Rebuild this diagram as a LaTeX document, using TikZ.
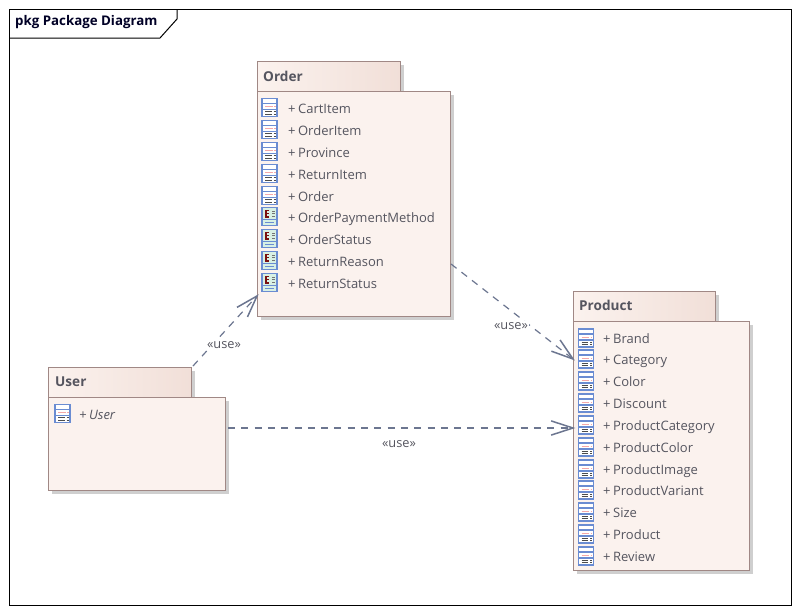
\documentclass[tikz,border=0pt]{standalone}
\usepackage{fontspec}
\setmainfont{Open Sans}
\usetikzlibrary{arrows.meta,calc}
\definecolor{pkgfill}{HTML}{FBF2EE}
\definecolor{pkgend}{HTML}{F1DFD8}
\definecolor{pkgline}{HTML}{A08885}
\definecolor{pkgshadow}{HTML}{CFCFCF}
\definecolor{txt}{HTML}{55555F}
\definecolor{conn}{HTML}{6C7690}
\definecolor{iconblue}{HTML}{6A8CD2}
\definecolor{iconred}{HTML}{F4A8A8}
\definecolor{icongreen}{HTML}{D8F0E4}
\definecolor{iconmaroon}{HTML}{7A1010}
\tikzset{
  x=1pt,y=-1pt,
  frameline/.style={draw=black,line width=1pt},
  bodybox/.style={draw=pkgline,fill=pkgfill,line width=1.2pt},
  tabbox/.style={draw=pkgline,left color=pkgfill,right color=pkgend,line width=1.2pt},
  pkgtitle/.style={anchor=west,inner sep=0pt,font=\fontsize{13.6}{15}\selectfont\bfseries,text=txt},
  item/.style={anchor=west,inner sep=0pt,text height=10pt,text depth=3pt,font=\fontsize{13}{15}\selectfont,text=txt},
  uselabel/.style={inner sep=1pt,fill=white,font=\fontsize{12.8}{14}\selectfont,text=txt},
  dep/.style={draw=conn,line width=1.2pt,dash pattern=on 7pt off 6.3pt},
  openhead/.style={draw=conn,line width=1.5pt},
  pics/classicon/.style={code={
    \draw[iconblue,fill=white,line width=1.3pt] (-7.5,-9) rectangle (7.5,9);
    \draw[iconblue,line width=1.1pt] (-7.5,-4) -- (7.5,-4) (-7.5,2) -- (7.5,2);
    \draw[iconred,line width=1pt] (-4.5,-1) -- (3,-1) (4.5,-1) -- (6,-1);
    \draw[black!70,line width=1pt] (-4.5,4.2) -- (2,4.2) (-4.5,6.8) -- (2,6.8) (4,4.2) -- (6,4.2) (4,6.8) -- (6,6.8);
  }},
  pics/enumicon/.style={code={
    \draw[iconblue,fill=icongreen,line width=1.3pt] (-7.5,-9) rectangle (7.5,9);
    \draw[iconblue,line width=1.1pt] (-7.5,3) -- (7.5,3);
    \draw[iconblue,line width=1pt] (-4.5,6) -- (4.5,6);
    \draw[iconmaroon,line width=1.3pt] (-0.5,-6) -- (-3.5,-6) -- (-3.5,0.5) -- (-0.5,0.5) (-3.5,-2.7) -- (-1,-2.7);
    \draw[black!55,line width=1pt] (2.5,-5.5) -- (5,-5.5) (2.5,-2.7) -- (5,-2.7) (2.5,0) -- (5,0);
  }}
}
\newcommand{\plus}[1]{+\hspace{0.19em}#1}
\begin{document}
\begin{tikzpicture}
\useasboundingbox (0,0) rectangle (800,613);
\fill[white] (0,0) rectangle (800,613);
% frame
\node[frameline,minimum width=782pt,minimum height=596pt,inner sep=0pt,anchor=north west] (frame) at (9,9) {};
\draw[frameline] (9,38) -- (160,38) -- (177,19) -- (177,9);
\node[anchor=west,inner sep=0pt,font=\fontsize{13.3}{15}\selectfont\bfseries,text=black!85!blue] (frametitle) at (15,22.5) {pkg Package Diagram};
% shadows
\fill[pkgshadow] (261,65) rectangle (404,95);
\fill[pkgshadow] (261,95) rectangle (454,320);
\fill[pkgshadow] (577,295) rectangle (719,325);
\fill[pkgshadow] (577,325) rectangle (753,574);
\fill[pkgshadow] (52,371) rectangle (195,401);
\fill[pkgshadow] (52,401) rectangle (229,494);
% Order
\node[tabbox,minimum width=143pt,minimum height=30pt,inner sep=0pt,anchor=north west] (ordertab) at (257,61) {};
\node[bodybox,minimum width=193pt,minimum height=225pt,inner sep=0pt,anchor=north west] (orderbody) at (257,91) {};
\node[pkgtitle] (ordertitle) at (263,76.5) {Order};
\foreach \n/\y/\k/\t in {a/108/classicon/CartItem,b/130/classicon/OrderItem,c/152/classicon/Province,d/174/classicon/ReturnItem,e/196/classicon/Order,f/217/enumicon/OrderPaymentMethod,g/239/enumicon/OrderStatus,h/261/enumicon/ReturnReason,i/283/enumicon/ReturnStatus}{
  \pic at (269.5,\y-0.5) {\k};
  \node[item] (order\n) at (288,\y+1.5) {\plus{\t}};
}
% Product
\node[tabbox,minimum width=142pt,minimum height=30pt,inner sep=0pt,anchor=north west] (producttab) at (573,291) {};
\node[bodybox,minimum width=176pt,minimum height=249pt,inner sep=0pt,anchor=north west] (productbody) at (573,321) {};
\node[pkgtitle,text height=10pt,text depth=0pt] (producttitle) at (579,305.5) {Product};
\foreach \n/\y/\t in {a/338/Brand,b/359/Category,c/381/Color,d/403/Discount,e/425/ProductCategory,f/447/ProductColor,g/469/ProductImage,h/490/ProductVariant,i/512/Size,j/534/Product,k/556/Review}{
  \pic at (586,\y) {classicon};
  \node[item] (product\n) at (603,\y+1.5) {\plus{\t}};
}
% User
\node[tabbox,minimum width=143pt,minimum height=30pt,inner sep=0pt,anchor=north west] (usertab) at (48,367) {};
\node[bodybox,minimum width=177pt,minimum height=93pt,inner sep=0pt,anchor=north west] (userbody) at (48,397) {};
\node[pkgtitle] (usertitle) at (55,381.5) {User};
\pic at (62.5,413.5) {classicon};
\node[item,font=\fontsize{13}{15}\selectfont\itshape] (useritem) at (79,415.5) {\plus{User}};
% connectors
\coordinate (orderout) at (451,264);
\coordinate (prodinA) at (573,359);
\coordinate (userout) at (193,366);
\coordinate (orderin) at (257,296);
\coordinate (userright) at (228,428);
\coordinate (prodinB) at (573,428);
\draw[dep] (orderout) -- (prodinA);
\draw[dep] (userout) -- (orderin);
\draw[dep] (userright) -- (prodinB);
\foreach \tip/\from in {prodinA/orderout,orderin/userout,prodinB/userright}{
  \draw[openhead,line join=miter] ($(\tip)!23pt!-18:(\from)$) -- (\tip) -- ($(\tip)!23pt!18:(\from)$);
}
\node[uselabel] (use1) at (224,345) {«use»};
\node[uselabel] (use2) at (511,326) {«use»};
\node[uselabel] (use3) at (399,444) {«use»};
\end{tikzpicture}
\end{document}
